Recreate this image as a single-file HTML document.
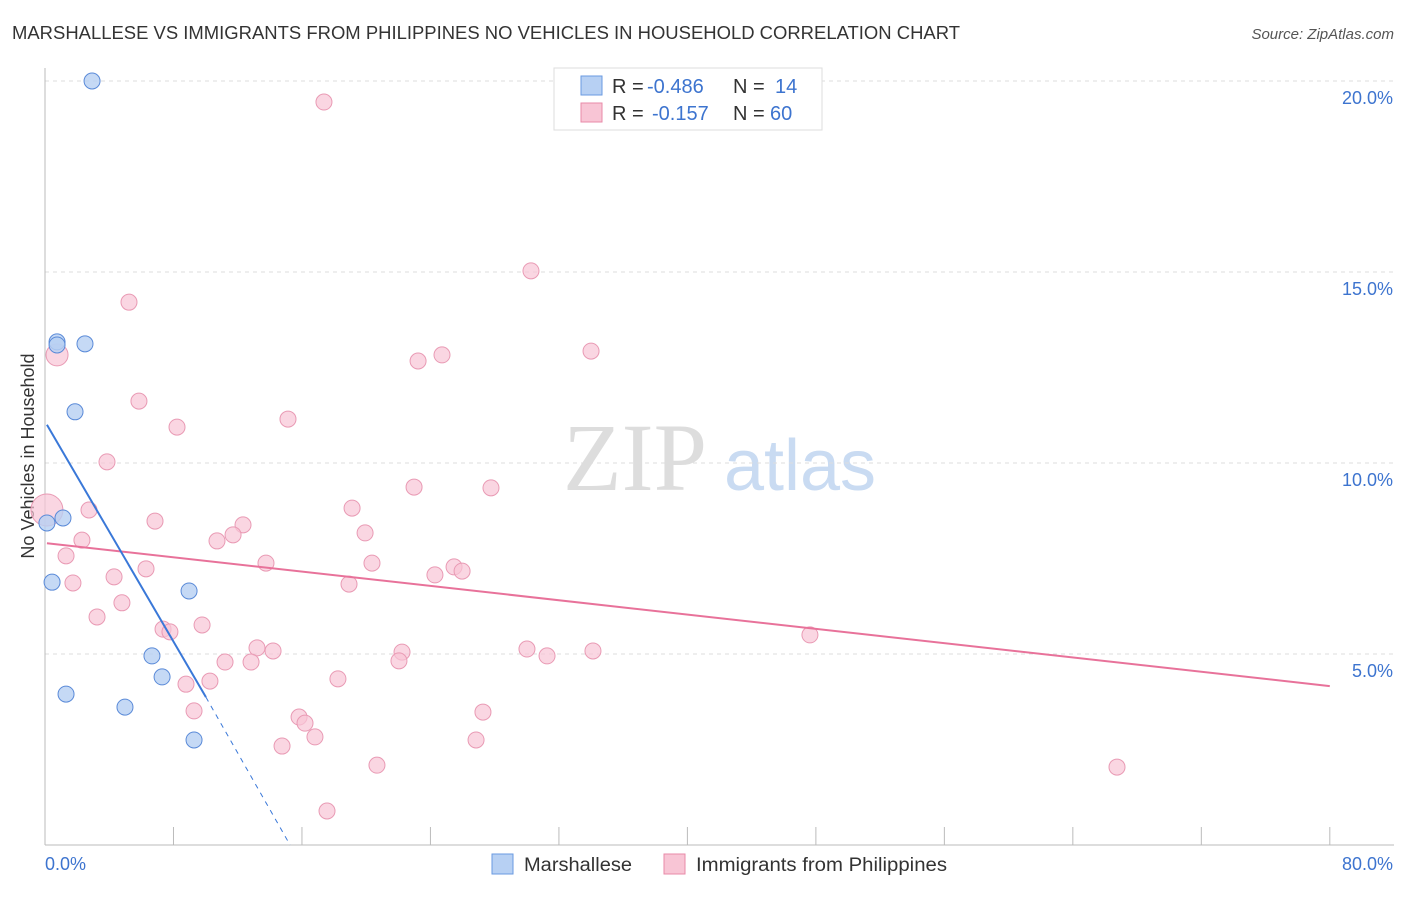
<!DOCTYPE html>
<html><head><meta charset="utf-8"><style>
body{margin:0;background:#fff;font-family:"Liberation Sans",sans-serif}
</style></head><body>
<svg id="c" width="1406" height="892" xmlns="http://www.w3.org/2000/svg" style="font-family:'Liberation Sans',sans-serif">
<text x="12" y="39" font-size="18" fill="#333" textLength="948" lengthAdjust="spacingAndGlyphs">MARSHALLESE VS IMMIGRANTS FROM PHILIPPINES NO VEHICLES IN HOUSEHOLD CORRELATION CHART</text>
<text x="1394" y="39" font-size="15" fill="#555" text-anchor="end" font-style="italic">Source: ZipAtlas.com</text>
<text x="34" y="456" font-size="18" fill="#333" text-anchor="middle" transform="rotate(-90 34 456)">No Vehicles in Household</text>
<g><text x="635" y="490" font-size="96" fill="#ddd" text-anchor="middle" font-family="Liberation Serif">ZIP</text><text x="800" y="490" font-size="72" fill="#c9dbf2" text-anchor="middle">atlas</text></g>
<g id="grid"></g><g id="axes"></g><g id="marks"></g>
<g>
<rect x="554" y="68" width="268" height="62" fill="#fff" stroke="#ddd"/>
<rect x="581" y="76" width="21" height="19" fill="#b7d0f3" stroke="#6a9ae0"/>
<text x="612" y="93" font-size="20" fill="#333">R =</text>
<text x="647" y="93" font-size="20" fill="#3d74cf">-0.486</text>
<text x="733" y="93" font-size="20" fill="#333">N =</text>
<text x="775" y="93" font-size="20" fill="#3d74cf">14</text>
<rect x="581" y="103" width="21" height="19" fill="#f8c5d5" stroke="#e88aa8"/>
<text x="612" y="120" font-size="20" fill="#333">R =</text>
<text x="652" y="120" font-size="20" fill="#3d74cf">-0.157</text>
<text x="733" y="120" font-size="20" fill="#333">N =</text>
<text x="770" y="120" font-size="20" fill="#3d74cf">60</text>
</g>
<g>
<rect x="492" y="854" width="21" height="20" fill="#b7d0f3" stroke="#6a9ae0"/>
<text x="524" y="871" font-size="19" fill="#333" textLength="108" lengthAdjust="spacingAndGlyphs">Marshallese</text>
<rect x="664" y="854" width="21" height="20" fill="#f8c5d5" stroke="#e88aa8"/>
<text x="696" y="871" font-size="19" fill="#333" textLength="251" lengthAdjust="spacingAndGlyphs">Immigrants from Philippines</text>
</g>
</svg>
<script>
const xTicks=[0,8,16,24,32,40,48,56,64,72,80];
const yTicks=[5,10,15,20];
const yTickLabels=["5.0%","10.0%","15.0%","20.0%"];
const blueX=[2.93,0.75,0.75,2.49,1.87,1.12,0.12,0.44,8.97,6.66,7.29,1.31,4.98,9.28];
const blueY=[20.0,13.17,13.09,13.12,11.34,8.56,8.43,6.88,6.65,4.95,4.40,3.95,3.61,2.75];
const pinkX=[17.37,30.26,5.23,34.0,0.75,24.72,23.23,5.85,8.22,15.13,3.86,22.98,27.77,0.12,2.74,19.12,6.85,12.33,19.93,11.71,10.71,2.30,1.31,13.76,6.29,20.36,25.47,25.97,24.28,4.30,1.74,18.93,4.79,3.24,9.78,7.35,7.78,13.20,14.20,22.23,30.01,31.26,34.12,22.04,11.21,12.83,47.63,8.78,10.27,18.24,9.28,27.27,15.82,16.19,16.81,26.84,14.76,20.67,66.75,17.56];
const pinkY=[19.45,15.03,14.21,12.93,12.83,12.83,12.67,11.62,10.94,11.15,10.03,9.37,9.35,8.77,8.77,8.82,8.48,8.38,8.17,8.12,7.96,7.98,7.57,7.38,7.23,7.38,7.28,7.17,7.07,7.02,6.86,6.83,6.34,5.97,5.76,5.65,5.58,5.16,5.08,5.05,5.13,4.95,5.08,4.82,4.79,4.79,5.50,4.21,4.29,4.35,3.51,3.48,3.35,3.19,2.83,2.75,2.59,2.09,2.04,0.89];
const pinkR=[8,8,8,8,11,8,8,8,8,8,8,8,8,16,8,8,8,8,8,8,8,8,8,8,8,8,8,8,8,8,8,8,8,8,8,8,8,8,8,8,8,8,8,8,8,8,8,8,8,8,8,8,8,8,8,8,8,8,8,8];
const blueLine=[[0.12,11.0],[10.02,3.87],[15.26,0]];
const pinkLine=[[0.12,7.9],[80,4.16]];
const X=v=>45+v*16.06, Y=v=>845-v*38.2;
const NS="http://www.w3.org/2000/svg";
function mk(p,t,a){const e=document.createElementNS(NS,t);for(const k in a)e.setAttribute(k,a[k]);p.appendChild(e);return e;}
const grid=document.getElementById('grid'),axes=document.getElementById('axes'),marks=document.getElementById('marks');
yTicks.forEach((t,i)=>{
 const l=mk(grid,'line',{x1:45,x2:1394,y1:Y(t),y2:Y(t),stroke:'#ddd','stroke-dasharray':'4,4'});
 
 
 const tx=mk(axes,'text',{x:1393,y:Y(t)+23,'font-size':18,fill:'#3d74cf','text-anchor':'end'});tx.textContent=yTickLabels[i];
 
 
});
const ax=mk(axes,'line',{x1:45,x2:1394,y1:845,y2:845,stroke:'#bbb'});


const ay=mk(axes,'line',{x1:45,x2:45,y1:68,y2:845,stroke:'#bbb'});


xTicks.forEach(t=>{const l=mk(axes,'line',{x1:X(t),x2:X(t),y1:827,y2:845,stroke:'#bbb'});
 
 });
[[0,'0.0%','start',45],[80,'80.0%','end',1393]].forEach(d=>{const t=mk(axes,'text',{x:d[3],y:870,'font-size':18,fill:'#3d74cf','text-anchor':d[2]});t.textContent=d[1];
 
 });
pinkX.forEach((v,i)=>{const c=mk(marks,'circle',{cx:X(v),cy:Y(pinkY[i]),r:pinkR[i],fill:'#f8c5d5','fill-opacity':0.7,stroke:'#e99ab4','stroke-width':1});
 
 });
blueX.forEach((v,i)=>{const c=mk(marks,'circle',{cx:X(v),cy:Y(blueY[i]),r:8,fill:'#b7d0f3','fill-opacity':0.8,stroke:'#5a8ad8','stroke-width':1});
 
 });
const pl=mk(marks,'line',{x1:X(pinkLine[0][0]),y1:Y(pinkLine[0][1]),x2:X(pinkLine[1][0]),y2:Y(pinkLine[1][1]),stroke:'#e8729a','stroke-width':2});


const bl=mk(marks,'line',{x1:X(blueLine[0][0]),y1:Y(blueLine[0][1]),x2:X(blueLine[1][0]),y2:Y(blueLine[1][1]),stroke:'#3a78d8','stroke-width':2});


const bd=mk(marks,'line',{x1:X(blueLine[1][0]),y1:Y(blueLine[1][1]),x2:X(blueLine[2][0]),y2:Y(blueLine[2][1]),stroke:'#3a78d8','stroke-width':1,'stroke-dasharray':'5,5'});


</script>
</body></html>
